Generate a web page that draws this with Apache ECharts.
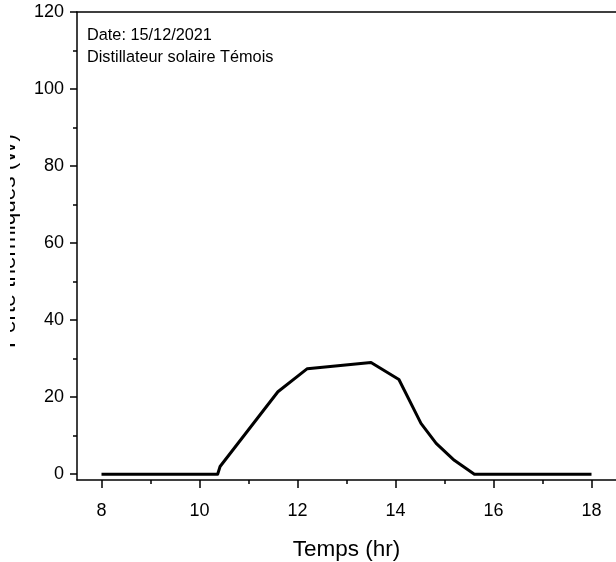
<!DOCTYPE html>
<html>
<head>
<meta charset="utf-8">
<script src="https://cdn.jsdelivr.net/npm/echarts@6/dist/echarts.min.js"></script>
<style>
html,body{margin:0;padding:0;background:#fff;}
#chart{width:616px;height:562px;}
</style>
</head>
<body>
<div id="chart"></div>
<script>
// Data
const timeHours = [8, 10.37, 10.42, 11.6, 12.2, 13.5, 14.07, 14.52, 14.83, 15.2, 15.61, 18];
const heatLoss  = [0, 0, 2.0, 21.4, 27.4, 29.0, 24.6, 13.2, 8.0, 3.6, 0, 0];

const xTickLabels = [8, 10, 12, 14, 16, 18];
const xMinorTicks = [9, 11, 13, 15, 17];
const yTickLabels = [0, 20, 40, 60, 80, 100, 120];
const yMinorTicks = [10, 30, 50, 70, 90, 110];

const xTitle = 'Temps (hr)';
const yTitle = 'Perte thermiques (W)';
const noteLines = ['Date: 15/12/2021', 'Distillateur solaire Témois'];

const FONT = '"Liberation Sans", Arial, sans-serif';
const AX = {color: '#000', width: 1.5};

const chart = echarts.init(document.getElementById('chart'), null, {renderer: 'canvas'});
const seriesData = timeHours.map((t, i) => [t, heatLoss[i]]);

chart.setOption({
  animation: false,
  backgroundColor: '#fff',
  title: {
    text: noteLines.join('\n'),
    left: 87, top: 24, padding: 0,
    textStyle: {fontFamily: FONT, fontSize: 16.3, fontWeight: 'normal', color: '#000', lineHeight: 22.5}
  },
  grid: {left: 77, top: 12, right: 0, bottom: 82, outerBoundsMode: 'none', containLabel: false},
  xAxis: [
    {
      type: 'value', min: 7.5, max: 18.5, position: 'bottom',
      name: xTitle, nameLocation: 'middle', nameGap: 58,
      nameTextStyle: {fontFamily: FONT, fontSize: 22.5, color: '#000'},
      axisLine: {show: true, onZero: false, lineStyle: AX},
      axisTick: {show: true, inside: false, length: 8, lineStyle: AX, customValues: xTickLabels},
      axisLabel: {show: true, margin: 22, fontFamily: FONT, fontSize: 18, color: '#000', customValues: xTickLabels},
      splitLine: {show: false}
    },
    {
      type: 'value', min: 7.5, max: 18.5, position: 'bottom',
      axisLine: {show: false, onZero: false},
      axisTick: {show: true, inside: false, length: 4, lineStyle: AX, customValues: xMinorTicks},
      axisLabel: {show: false, customValues: xMinorTicks},
      splitLine: {show: false}
    },
    {
      type: 'value', min: 7.5, max: 18.5, position: 'top',
      axisLine: {show: true, onZero: false, lineStyle: AX},
      axisTick: {show: false},
      axisLabel: {show: false},
      splitLine: {show: false}
    }
  ],
  yAxis: [
    {
      type: 'value', min: -1.5, max: 120, position: 'left',
      name: yTitle, nameLocation: 'middle', nameGap: 57, nameRotate: 90,
      nameTextStyle: {fontFamily: FONT, fontSize: 22.5, color: '#000', padding: [0, 0, 0, 10]},
      axisLine: {show: true, onZero: false, lineStyle: AX},
      axisTick: {show: true, inside: false, length: 7, lineStyle: AX, customValues: yTickLabels},
      axisLabel: {show: true, margin: 13, fontFamily: FONT, fontSize: 18, color: '#000', customValues: yTickLabels},
      splitLine: {show: false}
    },
    {
      type: 'value', min: -1.5, max: 120, position: 'left',
      axisLine: {show: false, onZero: false},
      axisTick: {show: true, inside: false, length: 4, lineStyle: AX, customValues: yMinorTicks},
      axisLabel: {show: false, customValues: yMinorTicks},
      splitLine: {show: false}
    }
  ],
  graphic: [
    {type: 'rect', left: 0, top: 100, z: 100, shape: {x: 0, y: 0, width: 10, height: 280}, style: {fill: '#fff'}, silent: true}
  ],
  series: [
    {
      type: 'line', xAxisIndex: 0, yAxisIndex: 0,
      data: seriesData,
      showSymbol: false, symbol: 'none',
      lineStyle: {color: '#000', width: 3, join: 'round'},
      clip: false
    }
  ]
});
</script>
</body>
</html>
